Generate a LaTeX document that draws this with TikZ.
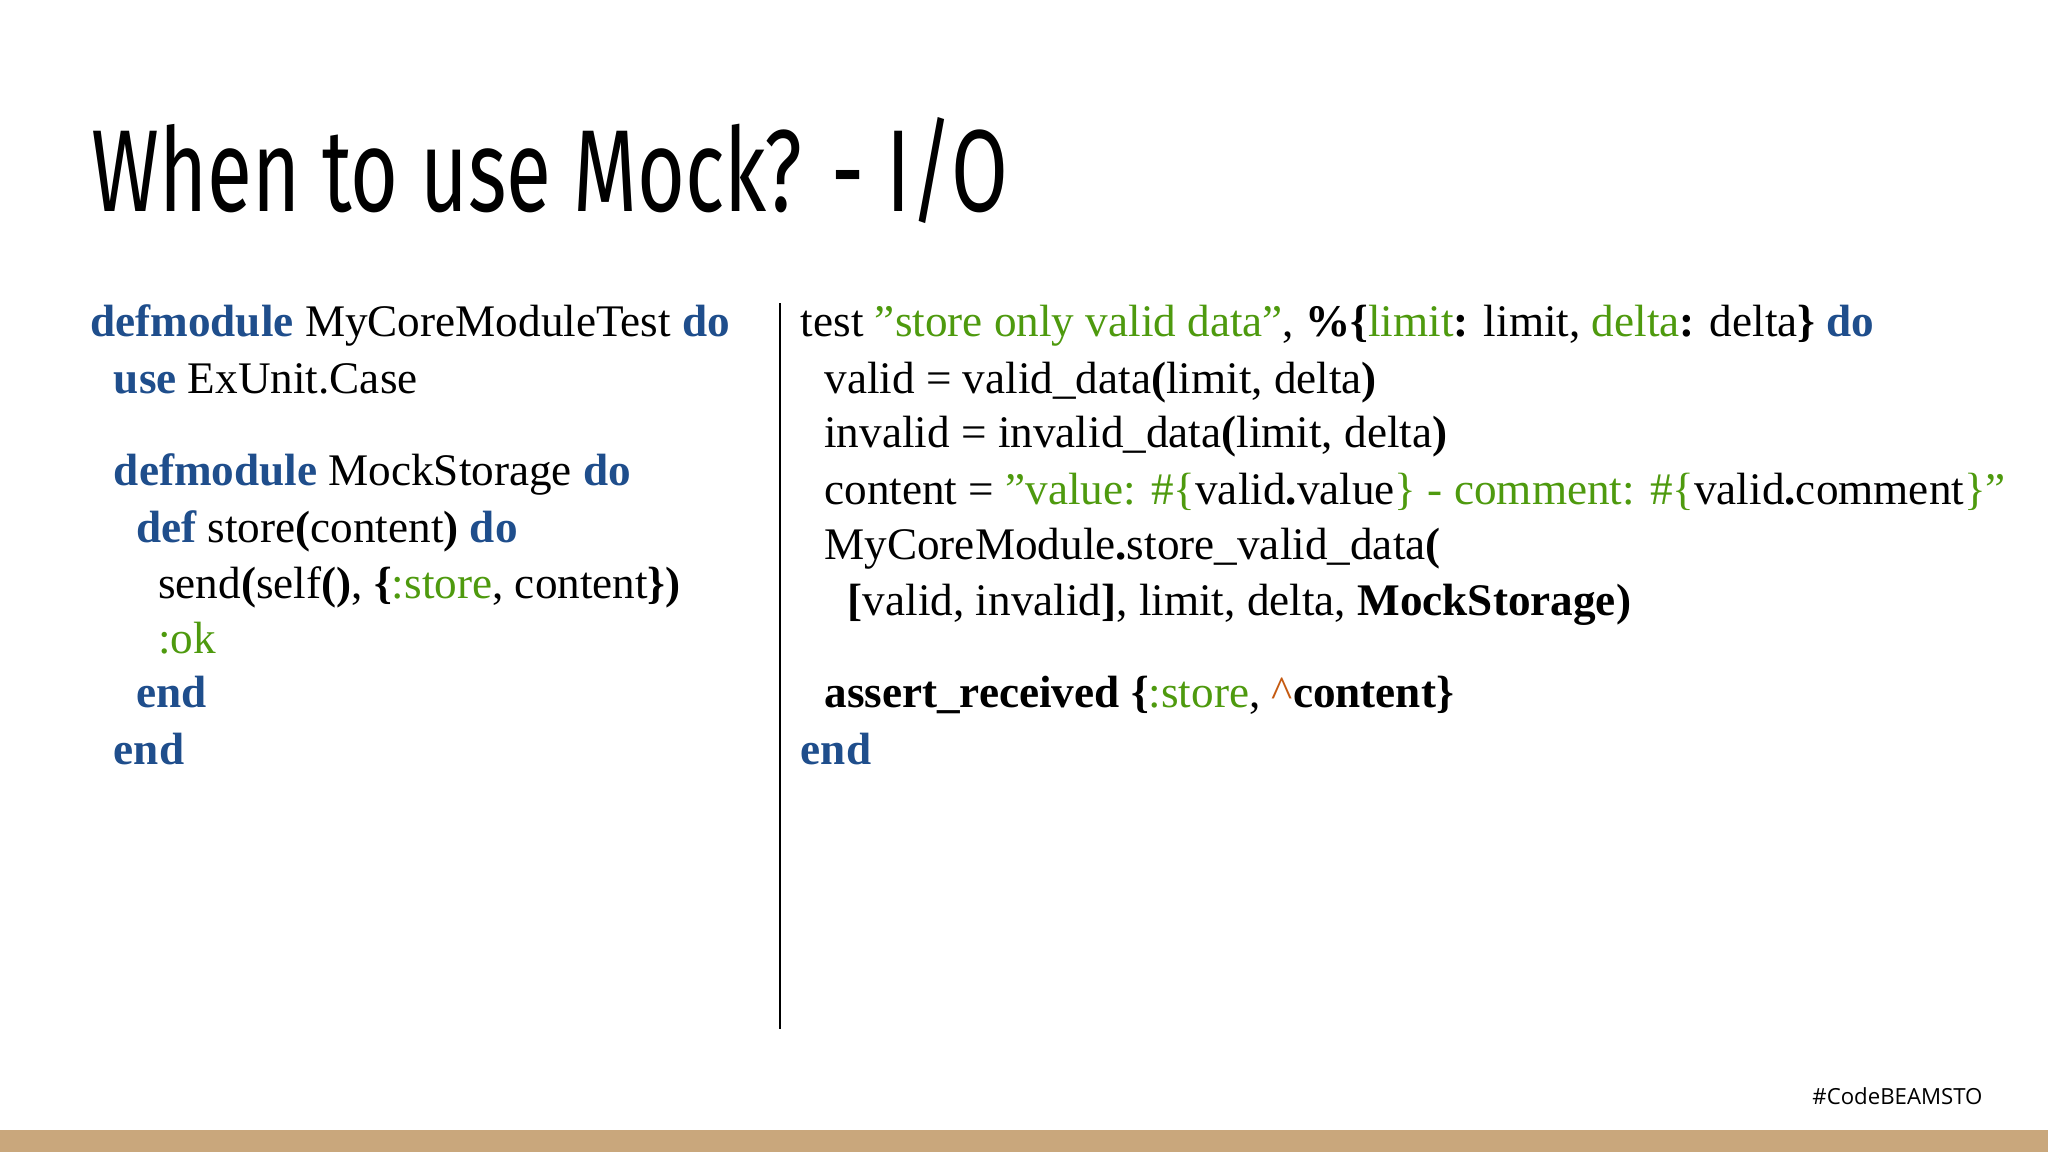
\documentclass[tikz,border=0pt]{standalone}
\usepackage{fontspec}
\setmainfont{Liberation Serif}
\newfontfamily\titlefont{Fira Sans}
\newfontfamily\tagfont{Open Sans}
\definecolor{kwblue}{HTML}{1F4E8C}
\definecolor{strgreen}{HTML}{4E9A0E}
\definecolor{caret}{HTML}{C55A11}
\definecolor{barc}{HTML}{C9A77C}
\newcommand{\kw}[1]{\textbf{\textcolor{kwblue}{#1}}}
\newcommand{\sg}[1]{\textcolor{strgreen}{#1}}
\newcommand{\bd}[1]{\textbf{#1}}
\newcommand{\dq}{\symbol{34}}
\begin{document}
\begin{tikzpicture}[x=1pt,y=-1pt,
  code/.style={anchor=base west,inner sep=0pt,font=\fontsize{34.6}{34.6}\selectfont}]
\useasboundingbox (0,0) rectangle (1568,882);
\fill[white] (0,0) rectangle (1568,882);
\fill[barc] (0,865) rectangle (1568,882);
\node[anchor=base west,inner sep=0pt] (title) at (70,162) {\resizebox{702pt}{72pt}{\titlefont\fontsize{100}{100}\selectfont When to use Mock? - I/O}};
\coordinate (dtop) at (597,232);
\coordinate (dbot) at (597,788);
\draw[line width=1.5pt] (dtop) -- (dbot);
% left
\node[code] (l1) at (69,258) {\kw{defmodule} MyCoreModuleTest \kw{do}};
\node[code] (l2) at (87,301) {\kw{use} ExUnit.Case};
\node[code] (l3) at (87,372) {\kw{defmodule} MockStorage \kw{do}};
\node[code] (l4) at (104,415) {\kw{def} store\bd{(}content\bd{)} \kw{do}};
\node[code] (l5) at (121,458) {send\bd{(}self\bd{()}, \bd{\{}\sg{:store}, content\bd{\})}};
\node[code] (l6) at (121,500) {\sg{:ok}};
\node[code] (l7) at (104,542) {\kw{end}};
\node[code] (l8) at (87,585) {\kw{end}};
% right
\node[code] (r1) at (613,258) {test \sg{\dq store only valid data\dq}, \bd{\%\{}\sg{limit}\bd{:} limit, \sg{delta}\bd{:} delta\bd{\}} \kw{do}};
\node[code] (r2) at (631,301) {valid = valid\_data\bd{(}limit, delta\bd{)}};
\node[code] (r3) at (631,343) {invalid = invalid\_data\bd{(}limit, delta\bd{)}};
\node[code] (r4) at (631,386) {content = \sg{\dq value: \#\{}valid\bd{.}value\sg{\} - comment: \#\{}valid\bd{.}comment\sg{\}\dq}};
\node[code] (r5) at (631,428) {MyCoreModule\bd{.}store\_valid\_data\bd{(}};
\node[code] (r6) at (649,471) {\bd{[}valid, invalid\bd{]}, limit, delta, \bd{MockStorage)}};
\node[code] (r7) at (631,542) {\bd{assert\_received \{}\sg{:store}, \textcolor{caret}{\^{}}\bd{content\}}};
\node[code] (r8) at (613,585) {\kw{end}};
\node[anchor=base east,inner sep=0pt,font=\tagfont\fontsize{17}{17}\selectfont] (tag) at (1518,846) {\#CodeBEAMSTO};
\end{tikzpicture}
\end{document}
